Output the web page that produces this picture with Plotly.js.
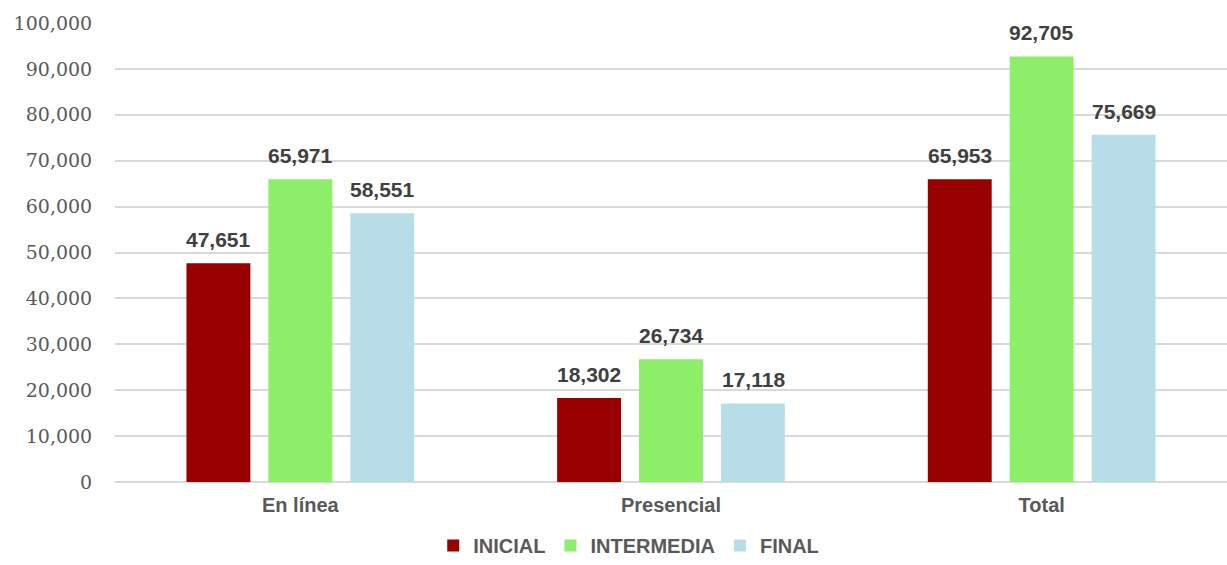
<!DOCTYPE html>
<html>
<head>
<meta charset="utf-8">
<script src="https://cdn.plot.ly/plotly-3.0.1.min.js"></script>
<style>html,body{margin:0;padding:0;background:#fff;}#chart{width:1227px;height:565px;}</style>
</head>
<body>
<div id="chart"></div>
<script>
const categories = ["En línea", "Presencial", "Total"];
const seriesNames = ["INICIAL", "INTERMEDIA", "FINAL"];
const inicial = [47651, 18302, 65953];
const intermedia = [65971, 26734, 92705];
const final = [58551, 17118, 75669];
const yTickVals = [0, 10000, 20000, 30000, 40000, 50000, 60000, 70000, 80000, 90000, 100000];
const yTickText = ["0", "10,000", "20,000", "30,000", "40,000", "50,000", "60,000", "70,000", "80,000", "90,000", "100,000"];

const colors = ["#990000", "#8DEE6A", "#B7DEE8"];
const allSeries = [inicial, intermedia, final];

const traces = allSeries.map((vals, i) => ({
  type: "bar",
  name: seriesNames[i],
  x: categories,
  y: vals,
  marker: { color: colors[i] },
  hoverinfo: "skip"
}));

const slotPx = 82;
const annotations = [];
allSeries.forEach((vals, i) => {
  vals.forEach((v, j) => {
    annotations.push({
      x: categories[j], y: v, xref: "x", yref: "y",
      text: v.toLocaleString("en-US"),
      showarrow: false, yanchor: "bottom",
      xshift: (i - 1) * slotPx, yshift: 10,
      font: { family: "Liberation Sans, Arial, sans-serif", size: 21, color: "#404040", weight: "bold" }
    });
  });
});

const layout = {
  width: 1227, height: 565,
  margin: { l: 115, r: 0, t: 23, b: 83, autoexpand: false },
  paper_bgcolor: "#ffffff", plot_bgcolor: "#ffffff",
  barmode: "group", bargap: 0.337, bargroupgap: 0.22,
  showlegend: true,
  legend: {
    orientation: "h", x: 0.462, xanchor: "center",
    yref: "container", y: 0.0, yanchor: "bottom",
    font: { family: "Liberation Sans, Arial, sans-serif", size: 20, color: "#595959", weight: "bold" },
    itemclick: false, itemdoubleclick: false
  },
  xaxis: {
    type: "category",
    tickfont: { family: "Liberation Sans, Arial, sans-serif", size: 20, color: "#595959", weight: "bold" },
    ticks: "outside", ticklen: 5, tickcolor: "rgba(0,0,0,0)",
    showline: false, showgrid: false, zeroline: false, fixedrange: true
  },
  yaxis: {
    range: [0, 100000],
    tickvals: yTickVals, ticktext: yTickText,
    tickfont: { family: "DejaVu Serif, Liberation Serif, serif", size: 19, color: "#595959" },
    ticks: "outside", ticklen: 18, tickcolor: "rgba(0,0,0,0)",
    showgrid: true, gridcolor: "#D9D9D9", gridwidth: 2,
    zeroline: true, zerolinecolor: "#D9D9D9", zerolinewidth: 2,
    showline: false, fixedrange: true
  },
  annotations: annotations
};

Plotly.newPlot("chart", traces, layout, { displayModeBar: false, staticPlot: true });
</script>
</body>
</html>
